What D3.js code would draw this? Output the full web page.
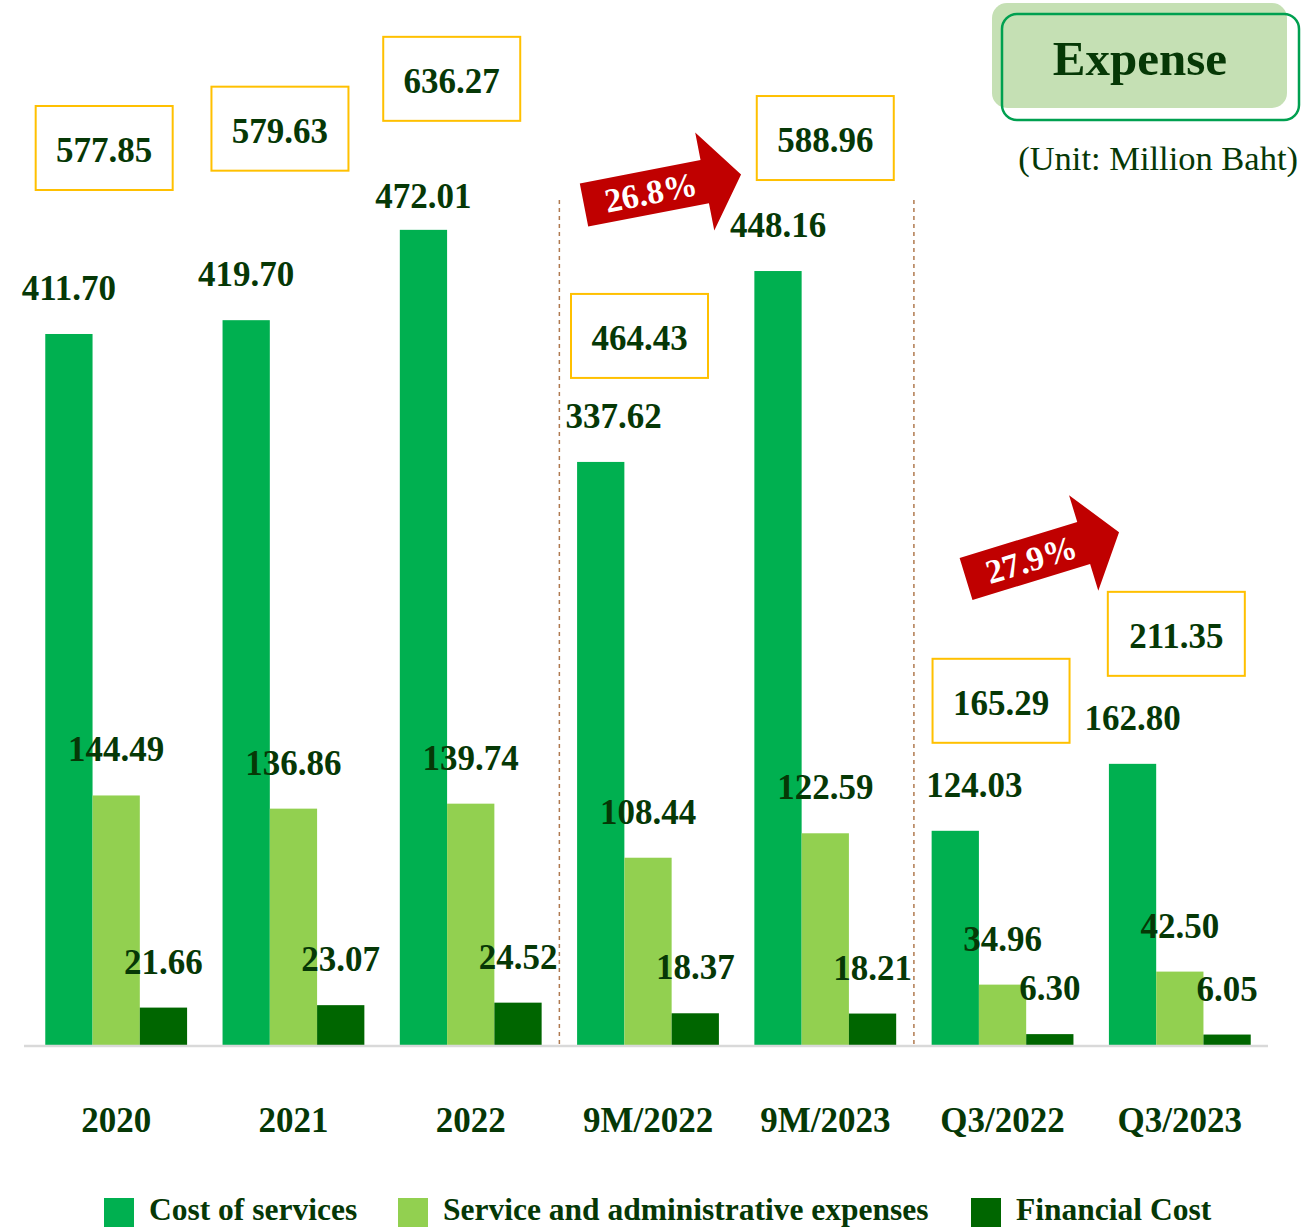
<!DOCTYPE html>
<html><head><meta charset="utf-8">
<script src="https://cdn.jsdelivr.net/npm/d3@7"></script>
<style>html,body{margin:0;padding:0;background:#fff;}svg{display:block;}</style>
</head><body>
<svg id="chart" width="1307" height="1227"></svg>
<script>
// ---- data ----
const categories = ["2020","2021","2022","9M/2022","9M/2023","Q3/2022","Q3/2023"];
const costOfServices = [411.70,419.70,472.01,337.62,448.16,124.03,162.80];
const serviceAdmin = [144.49,136.86,139.74,108.44,122.59,34.96,42.50];
const financialCost = [21.66,23.07,24.52,18.37,18.21,6.30,6.05];
const totals = [577.85,579.63,636.27,464.43,588.96,165.29,211.35];
const seriesNames = ["Cost of services","Service and administrative expenses","Financial Cost"];
const growthLabels = ["26.8%","27.9%"];
const growthFrom = ["9M/2022","Q3/2022"];

// ---- layout constants ----
const colors = ["#00B050","#92D050","#006600"];
const textCol = "#063806";
const font = "'Liberation Serif','Times New Roman',serif";
const boxDx = [-12,-13.5,-19,-8.5,0,-1.5,-3.5];
const boxAbove = [186,191.5,151,126,133,130,130];
const costLabelDx = [0,0,0,13,0,19,0];
const costLabelDy = [0,0,12,0,0,0,0];

const svg = d3.select("#chart");
const baseY = 1045;
const x0 = d3.scaleBand().domain(categories).range([24,1272]).paddingInner(0.2).paddingOuter(0.12);
const x1 = d3.scaleBand().domain([0,1,2]).range([0,x0.bandwidth()]);
const y = d3.scaleLinear().domain([0,500]).range([baseY, baseY-863.5]);

const series = [costOfServices, serviceAdmin, financialCost];

// separators
[[2,3],[4,5]].forEach(([a,b])=>{
  const xs = (x0(categories[a])+x0.bandwidth()+x0(categories[b]))/2;
  svg.append("line").attr("x1",xs).attr("x2",xs).attr("y1",200).attr("y2",baseY)
    .attr("stroke","#B07A50").attr("stroke-width",1.5).attr("stroke-dasharray","4,4");
});

// bars
const g = svg.append("g");
categories.forEach((c,i)=>{
  series.forEach((s,j)=>{
    g.append("rect").attr("x",x0(c)+x1(j)).attr("y",y(s[i]))
      .attr("width",x1.bandwidth()).attr("height",baseY-y(s[i])).attr("fill",colors[j]);
    g.append("text").attr("x",x0(c)+x1(j)+x1.bandwidth()/2+(j===0?costLabelDx[i]:0))
      .attr("y",y(s[i])-34+(j===0?costLabelDy[i]:0))
      .attr("text-anchor","middle").attr("font-family",font).attr("font-weight","bold")
      .attr("font-size",35).attr("fill",textCol).text(s[i].toFixed(2));
  });
  // total boxes
  const cx = x0(c)+x0.bandwidth()/2+boxDx[i];
  const cy = y(costOfServices[i]) - boxAbove[i];
  svg.append("rect").attr("x",cx-68.5).attr("y",cy-42).attr("width",137).attr("height",84)
    .attr("fill","#fff").attr("stroke","#FFC000").attr("stroke-width",2);
  svg.append("text").attr("x",cx).attr("y",cy+14).attr("text-anchor","middle")
    .attr("font-family",font).attr("font-weight","bold").attr("font-size",35)
    .attr("fill",textCol).text(totals[i].toFixed(2));
});

// axis line
svg.append("g").attr("transform",`translate(0,${baseY})`)
  .call(d3.axisBottom(x0).tickSize(0).tickPadding(0))
  .call(a=>{
    a.select(".domain").attr("stroke","#D9D9D9").attr("stroke-width",2.5).attr("d","M24,1H1268");
    a.selectAll("text").attr("y",87).attr("dy",0).attr("font-family",font).attr("font-weight","bold")
      .attr("font-size",35).attr("fill",textCol);
  });

// growth arrows
const arrows = [
  {from:growthFrom[0], dx:-64, ty:205, angle:-11, label:growthLabels[0]},
  {from:growthFrom[1], dx:-36.5, ty:579, angle:-17, label:growthLabels[1]}
];
arrows.forEach(a=>{
  const tx = x0(a.from)+x0.bandwidth()/2+a.dx;
  const ag = svg.append("g").attr("transform",`translate(${tx},${a.ty}) rotate(${a.angle})`);
  const L=123, HL=37, h=22, H=50;
  ag.append("path").attr("d",`M0,${-h}L${L},${-h}L${L},${-H}L${L+HL},0L${L},${H}L${L},${h}L0,${h}Z`)
    .attr("fill","#C00000");
  ag.append("text").attr("x",68).attr("y",12).attr("text-anchor","middle")
    .attr("font-family",font).attr("font-weight","bold").attr("font-size",34)
    .attr("fill","#fff").text(a.label);
});

// title box
svg.append("rect").attr("x",992).attr("y",3).attr("width",295).attr("height",105)
  .attr("rx",15).attr("fill","#C5E0B4");
svg.append("rect").attr("x",1002).attr("y",14).attr("width",297).attr("height",106)
  .attr("rx",15).attr("fill","none").attr("stroke","#00A050").attr("stroke-width",2.5);
svg.append("text").attr("x",1140).attr("y",75).attr("text-anchor","middle")
  .attr("font-family",font).attr("font-weight","bold").attr("font-size",49)
  .attr("fill","#063806").text("Expense");
svg.append("text").attr("x",1298).attr("y",170).attr("text-anchor","end")
  .attr("font-family",font).attr("font-size",34.5).attr("fill","#063806")
  .text("(Unit: Million Baht)");

// legend
const legX = [104,398,971];
seriesNames.forEach((n,j)=>{
  svg.append("rect").attr("x",legX[j]).attr("y",1198).attr("width",30).attr("height",30).attr("fill",colors[j]);
  svg.append("text").attr("x",legX[j]+45).attr("y",1220).attr("font-family",font).attr("font-weight","bold")
    .attr("font-size",31.5).attr("fill",textCol).text(n);
});
</script>
</body></html>
